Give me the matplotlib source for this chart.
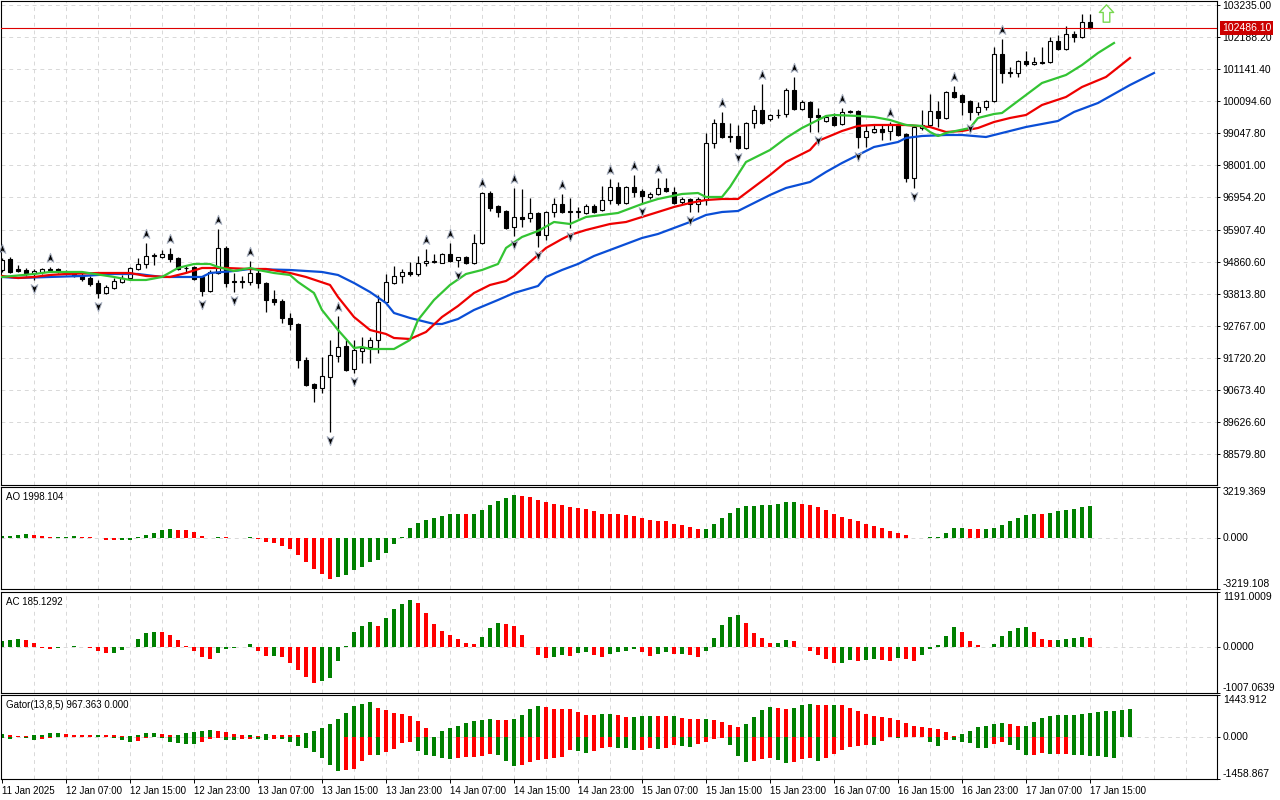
import numpy as np
import matplotlib
matplotlib.use("Agg")
import matplotlib.pyplot as plt
from matplotlib.path import Path
from matplotlib.transforms import offset_copy, blended_transform_factory

plt.rcParams['font.family'] = ['Liberation Sans', 'DejaVu Sans']
plt.rcParams['font.size'] = 7

# BTCUSD H1 candles, 11 Jan 23:00 .. 17 Jan 15:00
opens = [94588, 94947, 94621, 94588, 94490, 94523, 94621, 94621, 94523, 94523,
         94392, 94327, 94164, 93837, 94001, 94196, 94327, 94621, 94784, 95045,
         95012, 95110, 94980, 94653, 94686, 94360, 93902, 94490, 95306, 94229,
         94229, 94196, 94490, 94164, 93641, 93576, 93022, 92826, 91651, 90868,
         90738, 91097, 91781, 92108, 91357, 91945, 92075, 92304, 93544, 94164,
         94392, 94523, 94457, 94816, 94850, 94816, 95110, 94914, 95012, 94816,
         95469, 97100, 96676, 96513, 95991, 96317, 96285, 96448, 95730, 96480,
         96742, 96513, 96480, 96448, 96676, 96546, 96872, 97296, 96774, 97296,
         97166, 96970, 97068, 97264, 97133, 96807, 96905, 96742, 96872, 98731,
         99385, 98960, 98960, 98568, 99385, 99809, 99515, 99646, 99678, 100461,
         99841, 100070, 99646, 99450, 99580, 99352, 99776, 99776, 98927, 99091,
         99189, 99123, 99352, 99026, 97590, 99221, 99319, 99776, 99548, 100396,
         100298, 100102, 99744, 99907, 100102, 101636, 101049, 101016, 101408, 101310,
         101375, 101375, 102060, 101799, 102289, 102191, 102680]
highs = [94980, 95012, 94751, 94653, 94621, 94653, 94686, 94653, 94588, 94555,
         94490, 94392, 94262, 94099, 94327, 94425, 94686, 94980, 95469, 95143,
         95240, 95306, 95012, 94719, 94719, 94392, 94588, 95926, 95371, 94490,
         94392, 94882, 94588, 94196, 93935, 93641, 93185, 92858, 91749, 90901,
         91749, 92304, 93087, 92304, 92304, 92402, 92402, 93772, 94457, 94719,
         94621, 94849, 95045, 95273, 95110, 95143, 95469, 95012, 95045, 95763,
         97133, 97166, 96709, 96546, 97264, 97231, 96937, 96480, 96513, 96937,
         97068, 96937, 96644, 96742, 96742, 97329, 97557, 97459, 97329, 97688,
         97231, 97133, 97590, 97590, 97296, 96970, 96937, 96970, 99058, 99515,
         99744, 99385, 99320, 99417, 99972, 100657, 99678, 99841, 100526, 100885,
         100135, 100102, 99874, 99646, 99711, 99874, 99809, 99809, 99319, 99319,
         99319, 99417, 99385, 99058, 99287, 99809, 100331, 100102, 100428, 100592,
         100331, 100135, 100070, 100135, 101864, 102125, 101212, 101440, 101734, 101538,
         101864, 102191, 102256, 102550, 102386, 102941, 102941]
lows = [94523, 94490, 94523, 94392, 94262, 94457, 94523, 94490, 94425, 94360,
        94229, 94066, 93674, 93804, 93968, 94164, 94294, 94588, 94653, 94751,
        94980, 94849, 94588, 94523, 94262, 93739, 93870, 94457, 94033, 93870,
        94001, 94099, 94001, 93218, 93446, 92858, 92630, 91390, 90803, 90281,
        90574, 89302, 91586, 91292, 91227, 91553, 91553, 91879, 93511, 94131,
        94164, 94392, 94392, 94719, 94816, 94800, 94849, 94686, 94784, 94784,
        95436, 96513, 96317, 95926, 95697, 95991, 96154, 95338, 95567, 96317,
        96448, 95958, 96285, 96415, 96448, 96513, 96742, 96709, 96742, 96970,
        96774, 96905, 97035, 97133, 96742, 96742, 96480, 96480, 96709, 98568,
        98895, 98764, 98535, 98535, 99221, 99352, 99450, 99548, 99580, 99809,
        99809, 99091, 99091, 99417, 99287, 99319, 99711, 98568, 98601, 99058,
        98830, 98830, 98960, 97459, 97264, 99156, 99254, 99254, 99515, 100200,
        99646, 99482, 99646, 99809, 100070, 100690, 100886, 100886, 101244, 101277,
        101310, 101342, 101767, 101767, 102027, 102158, 102452]
closes = [94914, 94523, 94555, 94490, 94555, 94621, 94588, 94523, 94510, 94392,
          94294, 94131, 93837, 94033, 94229, 94327, 94653, 94784, 95045, 95077,
          95110, 94947, 94621, 94637, 94294, 93902, 94523, 95306, 94164, 94196,
          94196, 94490, 94164, 93609, 93544, 93022, 92826, 91651, 90836, 90738,
          91129, 91814, 92075, 91325, 91977, 92043, 92304, 93544, 94196, 94392,
          94523, 94457, 94816, 94882, 94882, 95110, 94882, 95012, 94816, 95469,
          97100, 96611, 96480, 95958, 96317, 96252, 96448, 95730, 96480, 96742,
          96480, 96480, 96497, 96676, 96480, 96872, 97296, 96774, 97296, 97133,
          97002, 97068, 97264, 97166, 96774, 96905, 96742, 96905, 98731, 99385,
          98927, 98927, 98568, 99385, 99809, 99385, 99646, 99630, 100461, 99841,
          100070, 99580, 99580, 99580, 99319, 99744, 99744, 98927, 99123, 99189,
          99091, 99352, 98993, 97590, 99254, 99319, 99776, 99548, 100396, 100233,
          100070, 99744, 99907, 100102, 101636, 101016, 101016, 101408, 101310, 101375,
          101342, 102060, 101799, 102289, 102191, 102680, 102486.10]

# Alligator lines (jaw / teeth / lips), sampled along the chart, shifted ahead of price
jaw_idx = [0, 2, 6, 10, 14, 17, 20, 25, 26, 29, 31, 36, 40, 42, 44, 46, 48, 49, 51, 54,
           55, 57, 59, 62, 64, 67, 68, 70, 72, 74, 76, 78, 80, 82, 84, 86, 88, 90, 92, 94,
           96, 98, 101, 103, 105, 107, 109, 112, 113, 115, 118, 120, 123, 125, 128, 130,
           132, 134, 137, 141, 144]
jaw_vals = [94360, 94327, 94360, 94392, 94457, 94457, 94360, 94360, 94490, 94555,
            94621, 94588, 94523, 94425, 94164, 93870, 93511, 93185, 93022, 92826,
            92826, 92989, 93283, 93609, 93837, 94066, 94360, 94588, 94784, 95045,
            95240, 95436, 95632, 95763, 95958, 96154, 96383, 96480, 96513, 96774,
            97035, 97264, 97459, 97786, 98079, 98340, 98601, 98764, 98895, 98960,
            98993, 98993, 98927, 99058, 99254, 99352, 99450, 99744, 100037, 100624,
            101016]
teeth_idx = [0, 2, 4, 6, 8, 12, 16, 18, 21, 23, 25, 26, 28, 31, 33, 36, 38, 41, 42, 44,
             46, 48, 49, 51, 53, 55, 57, 59, 61, 63, 64, 66, 68, 70, 71, 73, 76, 78, 80, 82,
             84, 86, 88, 90, 92, 94, 96, 98, 101, 102, 105, 107, 109, 113, 116, 118, 120,
             122, 124, 126, 128, 130, 133, 135, 138, 141]
teeth_vals = [94392, 94327, 94360, 94425, 94457, 94490, 94490, 94392, 94360, 94490,
              94653, 94653, 94653, 94621, 94621, 94490, 94360, 94099, 93707, 93054,
              92630, 92500, 92369, 92336, 92565, 93054, 93413, 93837, 94099, 94229,
              94392, 94849, 95306, 95599, 95730, 95893, 96089, 96154, 96317, 96480,
              96644, 96774, 96872, 96905, 96905, 97296, 97688, 98112, 98503, 98797,
              99123, 99287, 99319, 99319, 99254, 99091, 99123, 99221, 99417, 99548,
              99646, 99972, 100233, 100559, 100886, 101506]
lips_idx = [0, 4, 6, 10, 14, 16, 18, 20, 22, 24, 26, 27, 29, 31, 32, 34, 36, 37, 39, 40,
            42, 44, 45, 46, 49, 51, 52, 54, 56, 58, 60, 62, 63, 65, 67, 69, 71, 73, 77, 80,
            82, 85, 87, 88, 90, 91, 93, 96, 98, 100, 103, 104, 107, 109, 111, 113, 115,
            116, 117, 118, 121, 122, 124, 125, 126, 128, 130, 133, 135, 137, 139]
lips_vals = [94360, 94457, 94523, 94523, 94360, 94262, 94262, 94360, 94653, 94784,
             94784, 94686, 94555, 94653, 94588, 94490, 94425, 94196, 93837, 93283,
             92630, 92043, 92075, 92010, 92010, 92304, 92956, 93609, 94099, 94457,
             94588, 94784, 95306, 95665, 95860, 96154, 96089, 96317, 96448, 96742,
             96905, 97068, 97100, 96970, 96970, 97296, 98112, 98503, 98895, 99221,
             99613, 99646, 99613, 99580, 99482, 99319, 99287, 99091, 98960, 99058,
             99221, 99548, 99678, 99711, 99907, 100298, 100690, 100951, 101277, 101669,
             101995]

# Bill Williams fractals (bar numbers)
up_fractals = [0, 6, 18, 21, 27, 31, 42, 53, 56, 60, 64, 70, 76, 79, 82, 90, 95, 99,
               105, 111, 119, 125]
down_fractals = [4, 12, 25, 29, 41, 44, 57, 64, 67, 71, 80, 86, 92, 102, 107, 114, 121]

# buy signal arrow
signal_bar = 138
signal_price = 102960

ao_vals = [130, 145, 186, 248, 186, 124, 62, 70, 75, 124,
           62, 55, 5, -124, -130, -120, -110, 41, 186, 331,
           476, 580, 518, 476, 393, 145, 21, 45, 38, 20,
           30, 45, -62, -269, -331, -476, -683, -1056, -1511, -1946,
           -2256, -2567, -2443, -2318, -2008, -1822, -1511, -1387, -952, -393,
           41, 600, 952, 1139, 1263, 1387, 1511, 1520, 1505, 1515,
           1760, 2070, 2318, 2505, 2691, 2680, 2567, 2381, 2256, 2132,
           2070, 1946, 1884, 1822, 1697, 1511, 1505, 1500, 1449, 1387,
           1263, 1139, 1076, 1070, 890, 828, 704, 580, 585, 890,
           1263, 1573, 1884, 2008, 2015, 2070, 2075, 2132, 2256, 2262,
           2132, 2070, 1946, 1760, 1511, 1325, 1201, 1076, 890, 766,
           642, 455, 331, 207, 21, 5, 62, 83, 331, 642,
           650, 580, 575, 580, 642, 828, 1076, 1263, 1449, 1511,
           1505, 1573, 1697, 1760, 1822, 1946, 1998.104]

ac_vals = [120, 138, 160, 155, 73, -29, -51, -29, -15, 15,
           -15, -36, -102, -138, -135, -80, 2, 160, 291, 313,
           310, 247, 138, 7, -95, -225, -276, -138, -51, -22,
           -15, 51, -102, -204, -200, -225, -356, -509, -669, -792,
           -756, -691, -313, 22, 313, 443, 531, 443, 618, 814,
           923, 1011, 945, 727, 487, 334, 247, 160, 73, 70,
           204, 400, 509, 505, 443, 247, -7, -189, -254, -233,
           -189, -211, -138, -124, -189, -233, -167, -124, -102, -58,
           -124, -211, -167, -124, -167, -160, -189, -233, -102, 182,
           465, 640, 683, 509, 291, 182, 73, 78, 138, 116,
           -7, -102, -189, -276, -364, -360, -298, -302, -295, -276,
           -298, -320, -254, -258, -320, -189, -58, 29, 225, 422,
           313, 116, 29, -7, 51, 225, 334, 400, 422, 313,
           160, 138, 142, 160, 200, 206, 185.1292]

gator_up = [80, 57, 34, 23, 57, 68, 137, 140, 103, 68,
            65, 62, 70, 66, 57, 23, 25, 68, 137, 140,
            103, 46, 57, 137, 171, 205, 239, 205, 171, 103,
            46, 50, 34, 103, 57, 55, 52, 50, 137, 205,
            308, 445, 616, 821, 1060, 1129, 1197, 992, 923, 821,
            787, 718, 547, 308, 5, 205, 308, 376, 479, 547,
            581, 616, 581, 575, 616, 752, 958, 1060, 1026, 958,
            950, 945, 855, 752, 745, 787, 790, 752, 684, 690,
            718, 720, 715, 712, 718, 650, 616, 610, 615, 581,
            513, 410, 342, 445, 684, 923, 1026, 992, 958, 990,
            1094, 1129, 1094, 1090, 1095, 1092, 992, 889, 787, 718,
            684, 650, 581, 479, 376, 342, 308, 274, 171, 34,
            103, 205, 342, 376, 445, 467, 445, 376, 380, 513,
            650, 718, 752, 755, 758, 787, 821, 855, 889, 892,
            923, 967.363]
gator_down = [-57, -60, -23, -46, -114, -80, -34, -23, -11, -3,
              -10, -8, -23, -20, -57, -114, -171, -137, -57, -23,
              -57, -194, -205, -239, -242, -171, -91, -34, -103, -125,
              -80, -68, -72, -114, -68, -80, -194, -308, -376, -513,
              -718, -992, -1197, -1163, -1129, -821, -616, -620, -513, -410,
              -205, -171, -479, -616, -650, -718, -752, -718, -710, -684,
              -650, -581, -616, -821, -1026, -992, -855, -787, -780, -718,
              -710, -470, -485, -547, -479, -380, -370, -375, -380, -445,
              -440, -376, -410, -376, -274, -308, -342, -239, -171, -68,
              -34, -274, -650, -855, -850, -752, -718, -787, -923, -855,
              -752, -750, -821, -718, -581, -445, -342, -308, -274, -280,
              -137, -10, -25, -15, -10, -5, -171, -308, -103, -125,
              -171, -205, -376, -380, -240, -194, -274, -445, -638, -630,
              -570, -604, -600, -595, -638, -640, -673, -676, -707, -741,
              -20, 0.0]

time_labels = ["11 Jan 2025", "12 Jan 07:00", "12 Jan 15:00", "12 Jan 23:00",
               "13 Jan 07:00", "13 Jan 15:00", "13 Jan 23:00", "14 Jan 07:00",
               "14 Jan 15:00", "14 Jan 23:00", "15 Jan 07:00", "15 Jan 15:00",
               "15 Jan 23:00", "16 Jan 07:00", "16 Jan 15:00", "16 Jan 23:00",
               "17 Jan 07:00", "17 Jan 15:00"]
time_label_bars = list(range(0, 137, 8))

price_ticks = [103235.00, 102188.20, 101141.40, 100094.60, 99047.80, 98001.00,
               96954.20, 95907.40, 94860.60, 93813.80, 92767.00, 91720.20,
               90673.40, 89626.60, 88579.80]
price_range = (87572, 103365)
ao_range = (-3219.108, 3219.369)
ac_range = (-1007.0639, 1191.0009)
gator_range = (-1458.867, 1443.912)

GREEN = '#008000'
RED = '#ff0000'
GRID = '#d8d8d8'
DASH = (0, (4, 4))
NUM_SIZE = 7.5


def rising(vals, use_abs=False):
    v = np.abs(vals) if use_abs else np.asarray(vals)
    cols = [GREEN]
    for a, b in zip(v[:-1], v[1:]):
        cols.append(GREEN if b > a else RED)
    return cols


fig = plt.figure(figsize=(12.8, 8), dpi=100)
fig.patch.set_facecolor('white')


def add_panel(top, bottom):
    return fig.add_axes([1 / 1280, 1 - bottom / 800, 1216 / 1280, (bottom - top) / 800])


ax = add_panel(1, 485)
ax_ao = add_panel(487, 589)
ax_ac = add_panel(592, 693)
ax_gt = add_panel(695, 779)

for a in (ax, ax_ao, ax_ac, ax_gt):
    a.set_xlim(-0.125, 151.875)
    for s in a.spines.values():
        s.set_linewidth(0.8)
        s.set_color('black')
    for k in range(4, 152, 4):
        a.axvline(k, color=GRID, lw=0.7, ls=DASH, zorder=0)
    a.tick_params(axis='x', bottom=False, labelbottom=False)
    a.tick_params(axis='y', left=False, labelleft=False, right=True, labelright=True,
                  direction='out', length=2.5, width=0.7, pad=1.5, labelsize=NUM_SIZE)

# ---- price panel ----
o = np.array(opens)
h = np.array(highs)
l = np.array(lows)
c = np.array(closes)
bars = np.arange(len(c))
bull = c >= o

ax.set_ylim(*price_range)
ax.set_yticks(price_ticks)
ax.set_yticklabels([f'{p:.2f}' for p in price_ticks])
for p in price_ticks:
    ax.axhline(p, color=GRID, lw=0.7, ls=DASH, zorder=0)

ax.vlines(bars, l, h, color='black', lw=0.9, zorder=2)
ax.bar(bars, np.abs(c - o), width=0.6, bottom=np.minimum(o, c),
       color=np.where(bull, 'white', 'black'), edgecolor='black', linewidth=0.8, zorder=2.5)

ax.plot(jaw_idx, jaw_vals, color='#0a4ed6', lw=1.6, zorder=3)
ax.plot(teeth_idx, teeth_vals, color='#ee0000', lw=1.6, zorder=3.1)
ax.plot(lips_idx, lips_vals, color='#33c433', lw=1.6, zorder=3.2)

up_mk = Path([(0, 1), (0.65, -0.75), (0, -0.3), (-0.65, -0.75), (0, 1)],
             [Path.MOVETO, Path.LINETO, Path.LINETO, Path.LINETO, Path.CLOSEPOLY])
dn_mk = Path([(0, -1), (0.65, 0.75), (0, 0.3), (-0.65, 0.75), (0, -1)],
             [Path.MOVETO, Path.LINETO, Path.LINETO, Path.LINETO, Path.CLOSEPOLY])
ax.plot(up_fractals, h[up_fractals], ls='none', marker=up_mk, ms=7.5, mfc='black',
        mec='#a8b0c0', mew=0.7, transform=offset_copy(ax.transData, fig=fig, y=9, units='dots'),
        zorder=4, clip_on=False)
ax.plot(down_fractals, l[down_fractals], ls='none', marker=dn_mk, ms=7.5, mfc='black',
        mec='#a8b0c0', mew=0.7, transform=offset_copy(ax.transData, fig=fig, y=-8, units='dots'),
        zorder=4)

arrow_mk = Path([(0, 1), (0.82, 0.12), (0.38, 0.12), (0.38, -1), (-0.38, -1), (-0.38, 0.12),
                 (-0.82, 0.12), (0, 1)],
                [Path.MOVETO] + [Path.LINETO] * 6 + [Path.CLOSEPOLY])
ax.plot([signal_bar], [signal_price], ls='none', marker=arrow_mk, ms=12.5, mfc='white',
        mec='#78d850', mew=1.0, zorder=4)

last = closes[-1]
ax.axhline(last, color='#dd0000', lw=0.8, zorder=3.5)
blend = blended_transform_factory(ax.transAxes, ax.transData)
ax.text(1.0, last, f'{last:.2f}', transform=offset_copy(blend, fig=fig, x=5, units='dots'),
        ha='left', va='center', color='white', fontsize=NUM_SIZE, clip_on=False, zorder=10,
        bbox=dict(boxstyle='square,pad=0.18', fc='#cc0000', ec='none'))


# ---- oscillator panels ----
def side_labels(a, lo, hi, fmt):
    a.set_ylim(lo, hi)
    a.set_yticks([lo, 0, hi])
    a.set_yticklabels([])
    a.axhline(0, color=GRID, lw=0.7, ls=DASH, zorder=0)
    tr = offset_copy(blended_transform_factory(a.transAxes, a.transData), fig=fig, x=6, units='dots')
    for v, va in ((hi, 'top'), (0, 'center'), (lo, 'bottom')):
        a.text(1.0, v, fmt.format(v), transform=tr, ha='left', va=va, fontsize=NUM_SIZE, clip_on=False)


def title(a, s):
    a.annotate(s, xy=(0, 1), xycoords='axes fraction', xytext=(5, -5),
               textcoords='offset pixels', ha='left', va='top', fontsize=7)


ao_idx = np.arange(len(ao_vals))
ax_ao.bar(ao_idx, ao_vals, width=0.6, color=rising(ao_vals), linewidth=0, zorder=2)
side_labels(ax_ao, *ao_range, '{:.3f}')
title(ax_ao, f'AO {ao_vals[-1]:.3f}')

ac_idx = np.arange(len(ac_vals))
ax_ac.bar(ac_idx, ac_vals, width=0.6, color=rising(ac_vals), linewidth=0, zorder=2)
side_labels(ax_ac, *ac_range, '{:.4f}')
title(ax_ac, f'AC {ac_vals[-1]:.4f}')

gt_idx = np.arange(len(gator_up))
ax_gt.bar(gt_idx, gator_up, width=0.6, color=rising(gator_up), linewidth=0, zorder=2)
ax_gt.bar(gt_idx, gator_down, width=0.6, color=rising(gator_down, use_abs=True), linewidth=0, zorder=2)
side_labels(ax_gt, *gator_range, '{:.3f}')
title(ax_gt, f'Gator(13,8,5) {gator_up[-1]:.3f} {abs(gator_down[-1]):.3f}')

ax_gt.set_xticks(time_label_bars)
ax_gt.set_xticklabels(time_labels, ha='left')
ax_gt.tick_params(axis='x', bottom=True, labelbottom=True, direction='out',
                  length=3, width=0.7, pad=2, labelsize=7)

fig.savefig('out.png', dpi=100, facecolor='white')
